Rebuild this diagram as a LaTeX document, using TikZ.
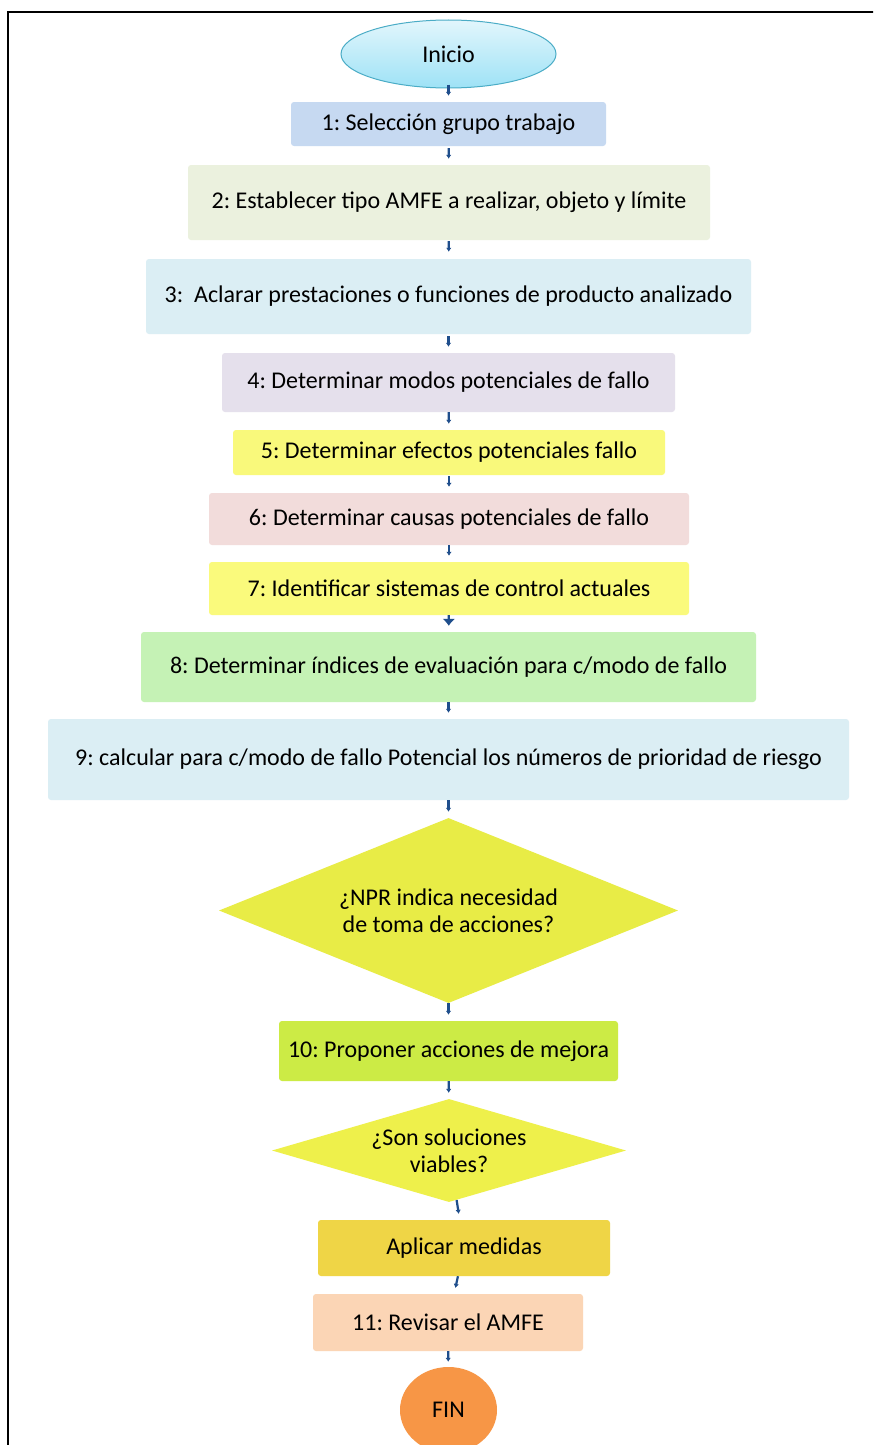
\documentclass[tikz,border=0pt]{standalone}
\usepackage{fontspec}
\setmainfont{Carlito}
\usetikzlibrary{shapes.geometric,arrows.meta}
\frenchspacing
\definecolor{arrowblue}{HTML}{1F4E8C}
\definecolor{cIniTop}{HTML}{E2F6FC}
\definecolor{cIniBot}{HTML}{9EE2F6}
\definecolor{cIniLine}{HTML}{4AACC6}
\definecolor{cB1}{HTML}{C6D9F1}
\definecolor{cB2}{HTML}{EBF1DE}
\definecolor{cB3}{HTML}{DBEEF4}
\definecolor{cB4}{HTML}{E5E0EC}
\definecolor{cB5}{HTML}{F9F97B}
\definecolor{cB6}{HTML}{F2DCDB}
\definecolor{cB7}{HTML}{FAFA7C}
\definecolor{cB8}{HTML}{C5F2B5}
\definecolor{cB9}{HTML}{DBEEF4}
\definecolor{cD1}{HTML}{E8EC46}
\definecolor{cB10}{HTML}{CCEB45}
\definecolor{cD2}{HTML}{EEF04B}
\definecolor{cApl}{HTML}{EFD546}
\definecolor{cB11}{HTML}{FBD5B5}
\definecolor{cFin}{HTML}{F79646}
\begin{document}
\frenchspacing
\begin{tikzpicture}[x=1pt,y=-1pt,
  txt/.style={text=black, font=\fontsize{24}{27}\selectfont\frenchspacing, inner sep=0pt, align=center},
  box/.style={txt, rectangle, rounded corners=3pt},
  dec/.style={txt, diamond},
  arr/.style={draw=arrowblue, line width=2.2pt, -{Latex[length=4pt,width=5.5pt]}, shorten >=6pt},
  bigarr/.style={arr, -{Latex[length=7pt,width=13pt]}}]
\clip (0,0) rectangle (873,1445);
\fill[white] (0,0) rectangle (873,1445);
% frame
\draw[line width=2.2pt] (880,12) -- (8,12) -- (8,1450);
% nodes
\node[txt, ellipse, top color=cIniTop, bottom color=cIniBot, draw=cIniLine, line width=1pt,
  minimum width=215pt, minimum height=68pt] (ini) at (448.5,54) {Inicio};
\node[box, fill=cB1, minimum width=315pt, minimum height=44pt] (b1) at (448.5,124) {1: Selección grupo trabajo};
\node[box, fill=cB2, minimum width=522pt, minimum height=75pt] (b2) at (449,202.5) {2: Establecer tipo AMFE a realizar, objeto y límite};
\node[box, fill=cB3, minimum width=605pt, minimum height=75pt] (b3) at (448.5,296.5) {3:\ \ Aclarar prestaciones o funciones de producto analizado};
\node[box, fill=cB4, minimum width=453pt, minimum height=59pt] (b4) at (448.5,382.5) {4: Determinar modos potenciales de fallo};
\node[box, fill=cB5, minimum width=432pt, minimum height=45pt] (b5) at (449,452.5) {5: Determinar efectos potenciales fallo};
\node[box, fill=cB6, minimum width=480pt, minimum height=52pt] (b6) at (449,519) {6: Determinar causas potenciales de fallo};
\node[box, fill=cB7, minimum width=480pt, minimum height=53pt] (b7) at (449,588.5) {7: Identificar sistemas de control actuales};
\node[box, fill=cB8, minimum width=615pt, minimum height=70pt] (b8) at (448.5,667) {8: Determinar índices de evaluación para c/modo de fallo};
\node[box, fill=cB9, minimum width=801pt, minimum height=81pt] (b9) at (448.5,759.5) {9: calcular para c/modo de fallo Potencial los números de prioridad de riesgo};
\node[dec, fill=cD1, shape aspect=2.48, minimum width=459pt, minimum height=185pt] (d1) at (448.5,910.5) {¿NPR indica necesidad\\de toma de acciones?};
\node[box, fill=cB10, minimum width=339pt, minimum height=60pt] (b10) at (448.5,1051) {10: Proponer acciones de mejora};
\node[dec, fill=cD2, shape aspect=3.44, minimum width=354pt, minimum height=103pt] (d2) at (449,1150.5) {¿Son soluciones\\viables?};
\node[box, fill=cApl, minimum width=292pt, minimum height=56pt] (apl) at (464,1248) {Aplicar medidas};
\node[box, fill=cB11, minimum width=270pt, minimum height=57pt] (b11) at (448,1322.5) {11: Revisar el AMFE};
\node[txt, ellipse, fill=cFin, minimum width=97pt, minimum height=86pt] (fin) at (448.5,1410) {FIN};
% connectors
\draw[arr, shorten <=-4pt] (ini) -- (b1);
\draw[arr, shorten <=2pt] (b1) -- (b2);
\draw[arr, shorten <=1pt, shorten >=7pt] (b2) -- (b3);
\draw[arr, shorten <=2pt] (b3) -- (b4);
\draw[arr] (b4) -- (b5);
\draw[arr, shorten <=1pt] (b5) -- (b6);
\draw[arr] (b6) -- (b7);
\draw[bigarr] (b7) -- (b8);
\draw[arr] (b8) -- (b9);
\draw[arr] (b9) -- (d1);
\draw[arr] (d1) -- (b10);
\draw[arr] (b10) -- (d2);
\draw[arr] (d2) -- (apl);
\draw[arr] (apl) -- (b11);
\draw[arr, shorten >=5pt] (b11) -- (fin);
\end{tikzpicture}
\end{document}
